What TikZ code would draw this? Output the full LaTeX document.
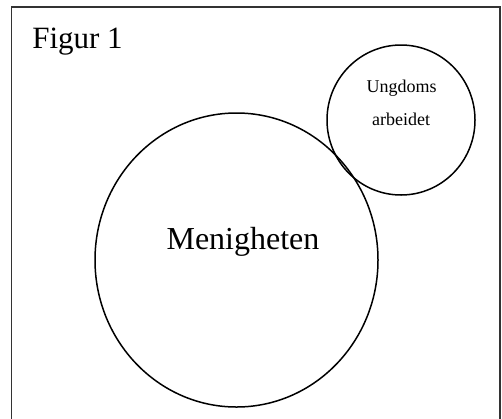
\documentclass[tikz,border=0pt]{standalone}
\usepackage{fontspec}
\setmainfont{Liberation Serif}
\tikzset{
	ring/.style={line width=1.5pt, color=black},
	frame/.style={line width=1.7pt, color=black!80},
	bigtext/.style={anchor=base, inner sep=0pt, font=\fontsize{31}{31}\selectfont},
	smalltext/.style={anchor=base, inner sep=0pt, font=\fontsize{18}{18}\selectfont}
}

\begin{document}
\begin{tikzpicture}[x=1pt, y=-1pt]
		%%%%% START %%%%%
		\useasboundingbox (0, 0) rectangle (502, 418);
		
		\draw[frame] (11.5, 7) rectangle (500, 440);
		\node[bigtext] (figur) at (77.5, 48.5) {Figur 1};
		
		\draw[ring] (236.5, 260) ellipse (141.5 and 147);
		\node[bigtext, font=\fontsize{32}{32}\selectfont] (menigheten) at (243, 249.3) {Menigheten};
		
		\draw[ring] (401, 120) ellipse (74 and 75);
		\node[smalltext] (ungdoms) at (401.5, 92) {Ungdoms};
		\node[smalltext] (arbeidet) at (401, 125) {arbeidet};
		
		%%%%% END %%%%%
\end{tikzpicture}
\end{document}
